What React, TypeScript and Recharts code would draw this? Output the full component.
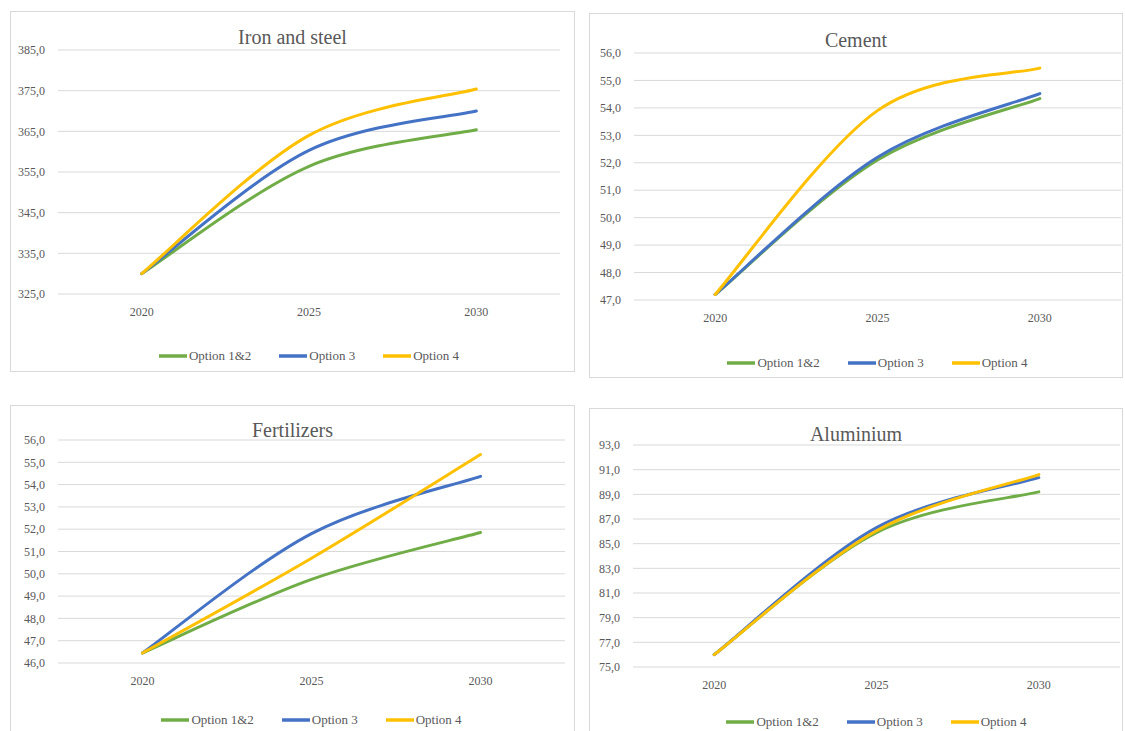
import { LineChart, Line, XAxis, YAxis, CartesianGrid } from 'recharts';

// shared categories
const years = ['2020', '2025', '2030'];

// Iron and steel
const ironOpt12 = [330.0, 356.4, 365.4];
const ironOpt3 = [330.0, 360.3, 370.0];
const ironOpt4 = [330.0, 364.0, 375.4];
const ironTicks = [325, 335, 345, 355, 365, 375, 385];

// Cement
const cementOpt12 = [47.2, 52.1, 54.34];
const cementOpt3 = [47.2, 52.2, 54.52];
const cementOpt4 = [47.2, 53.9, 55.45];
const cementTicks = [47, 48, 49, 50, 51, 52, 53, 54, 55, 56];

// Fertilizers
const fertOpt12 = [46.45, 49.75, 51.85];
const fertOpt3 = [46.45, 51.8, 54.37];
const fertOpt4 = [46.45, 50.7, 55.35];
const fertTicks = [46, 47, 48, 49, 50, 51, 52, 53, 54, 55, 56];

// Aluminium
const aluOpt12 = [76.0, 85.9, 89.2];
const aluOpt3 = [76.0, 86.3, 90.35];
const aluOpt4 = [76.0, 86.05, 90.6];
const aluTicks = [75, 77, 79, 81, 83, 85, 87, 89, 91, 93];

const seriesNames = ['Option 1&2', 'Option 3', 'Option 4'];
const seriesKeys = ['opt12', 'opt3', 'opt4'];
const seriesColors = ['#70ad47', '#4472c4', '#ffc000'];

const FONT = "'Liberation Serif', 'Times New Roman', serif";
const TEXT = '#595959';
const GRID = '#d9d9d9';

interface Box { left: number; top: number; width: number; height: number }
interface Plot { left: number; right: number; top: number; bottom: number }

const toRows = (a: number[], b: number[], c: number[]) =>
  years.map((year, i) => ({ year, opt12: a[i], opt3: b[i], opt4: c[i] }));

const fmt = (v: number) => v.toFixed(1).replace('.', ',');

// Spreadsheet-style smoothed line: cubic Bezier segments whose control points
// sit 1/6 of the neighbour-to-neighbour vector away (end points duplicated).
function smoothCurve(context: any) {
  let pts: [number, number][] = [];
  return {
    areaStart() {},
    areaEnd() {},
    lineStart() { pts = []; },
    point(x: number, y: number) { pts.push([+x, +y]); },
    lineEnd() {
      if (!pts.length) return;
      context.moveTo(pts[0][0], pts[0][1]);
      for (let i = 0; i < pts.length - 1; i++) {
        const p0 = pts[Math.max(i - 1, 0)];
        const p1 = pts[i];
        const p2 = pts[i + 1];
        const p3 = pts[Math.min(i + 2, pts.length - 1)];
        context.bezierCurveTo(
          p1[0] + (p2[0] - p0[0]) / 6, p1[1] + (p2[1] - p0[1]) / 6,
          p2[0] - (p3[0] - p1[0]) / 6, p2[1] - (p3[1] - p1[1]) / 6,
          p2[0], p2[1],
        );
      }
    },
  };
}

interface PanelProps {
  title: string;
  rows: { year: string; opt12: number; opt3: number; opt4: number }[];
  ticks: number[];
  box: Box;
  plot: Plot;
  titleY: number;
  legendY: number;
}

function Panel({ title, rows, ticks, box, plot, titleY, legendY }: PanelProps) {
  const yAxisWidth = 40;
  const xAxisHeight = 30;
  const margin = {
    top: plot.top - box.top,
    right: box.left + box.width - plot.right,
    bottom: box.top + box.height - plot.bottom - xAxisHeight,
    left: plot.left - box.left - yAxisWidth,
  };
  const pad = (plot.right - plot.left) / 6;

  return (
    <>
      <div
        style={{
          position: 'absolute', left: box.left, top: box.top, width: box.width, height: box.height,
          border: `1px solid ${GRID}`, boxSizing: 'border-box', background: '#fff',
        }}
      />
      <div
        style={{
          position: 'absolute', left: box.left, top: titleY - 12, width: box.width, height: 24,
          lineHeight: '24px', textAlign: 'center', fontFamily: FONT, fontSize: 20, color: TEXT,
        }}
      >
        {title}
      </div>
      <div style={{ position: 'absolute', left: box.left, top: box.top }}>
        <LineChart width={box.width} height={box.height} data={rows} margin={margin}>
          <CartesianGrid vertical={false} stroke={GRID} strokeWidth={1} />
          <XAxis
            dataKey="year"
            height={xAxisHeight}
            padding={{ left: pad, right: pad }}
            axisLine={false}
            tickLine={false}
            tickSize={0}
            tickMargin={13}
            interval={0}
            tick={{ fill: TEXT, fontSize: 12, fontFamily: FONT }}
          />
          <YAxis
            width={yAxisWidth}
            domain={[ticks[0], ticks[ticks.length - 1]]}
            ticks={ticks}
            interval={0}
            axisLine={false}
            tickLine={false}
            tickSize={0}
            tickMargin={13}
            tickFormatter={fmt}
            tick={{ fill: TEXT, fontSize: 12, fontFamily: FONT }}
          />
          {seriesKeys.map((k, i) => (
            <Line
              key={k}
              type={smoothCurve as any}
              dataKey={k}
              name={seriesNames[i]}
              stroke={seriesColors[i]}
              strokeWidth={3}
              strokeLinecap="round"
              dot={false}
              isAnimationActive={false}
            />
          ))}
        </LineChart>
      </div>
      <div
        style={{
          position: 'absolute', left: plot.left, width: plot.right - plot.left, top: legendY - 9, height: 18,
          display: 'flex', justifyContent: 'center', alignItems: 'center',
          fontFamily: FONT, fontSize: 13, color: TEXT,
        }}
      >
        {seriesNames.map((name, i) => (
          <div key={name} style={{ display: 'flex', alignItems: 'center', marginRight: i < 2 ? 28 : 0 }}>
            <svg width={28} height={6} style={{ marginRight: 2 }}>
              <line x1={0} y1={3} x2={28} y2={3} stroke={seriesColors[i]} strokeWidth={3.5} />
            </svg>
            <span>{name}</span>
          </div>
        ))}
      </div>
    </>
  );
}

export default function App() {
  return (
    <div
      style={{
        position: 'absolute', left: 0, top: 0, width: 1125, height: 731,
        overflow: 'hidden', background: '#fff',
      }}
    >
      <Panel
        title="Iron and steel"
        rows={toRows(ironOpt12, ironOpt3, ironOpt4)}
        ticks={ironTicks}
        box={{ left: 10, top: 11, width: 565, height: 361 }}
        plot={{ left: 58, right: 560, top: 50, bottom: 294 }}
        titleY={37}
        legendY={356}
      />
      <Panel
        title="Cement"
        rows={toRows(cementOpt12, cementOpt3, cementOpt4)}
        ticks={cementTicks}
        box={{ left: 589, top: 13, width: 534, height: 365 }}
        plot={{ left: 634, right: 1121, top: 53, bottom: 300 }}
        titleY={40}
        legendY={363}
      />
      <Panel
        title="Fertilizers"
        rows={toRows(fertOpt12, fertOpt3, fertOpt4)}
        ticks={fertTicks}
        box={{ left: 10, top: 405, width: 565, height: 340 }}
        plot={{ left: 58, right: 565, top: 440, bottom: 663 }}
        titleY={430}
        legendY={720}
      />
      <Panel
        title="Aluminium"
        rows={toRows(aluOpt12, aluOpt3, aluOpt4)}
        ticks={aluTicks}
        box={{ left: 589, top: 408, width: 534, height: 340 }}
        plot={{ left: 633, right: 1120, top: 445, bottom: 667 }}
        titleY={434}
        legendY={722}
      />
    </div>
  );
}
